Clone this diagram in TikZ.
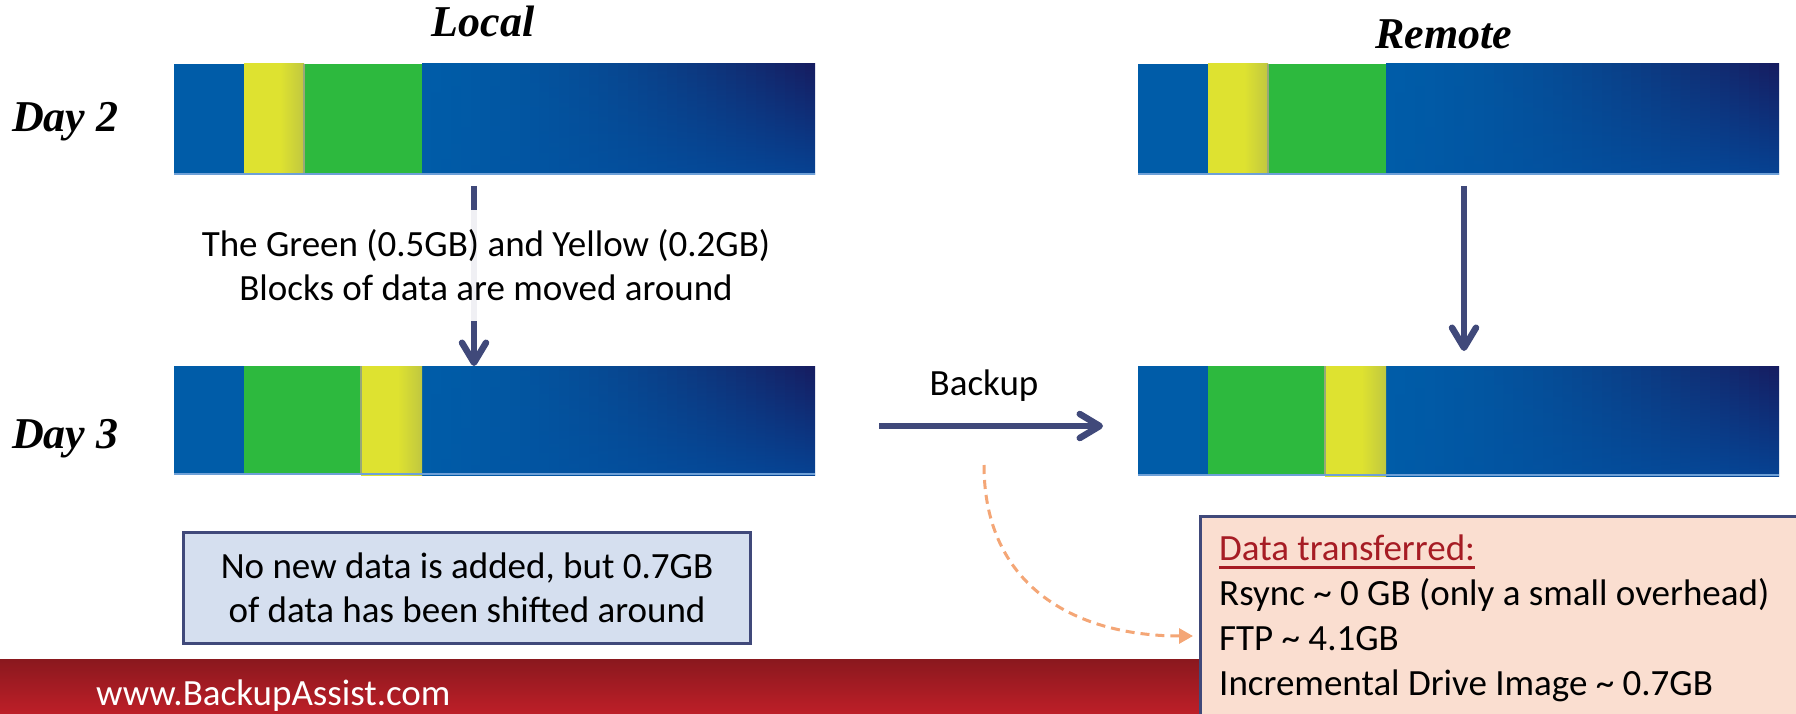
\documentclass[tikz,border=0pt]{standalone}
\usepackage{fontspec}
\setmainfont{Carlito}
\newfontfamily\titlefont{Liberation Serif}
\usetikzlibrary{arrows.meta}
\definecolor{navy}{RGB}{64,73,122}
\definecolor{barblue}{RGB}{0,92,168}
\definecolor{bardark}{RGB}{22,28,96}
\definecolor{botright}{RGB}{6,66,146}
\definecolor{ylw}{RGB}{222,226,48}
\definecolor{ylwdark}{RGB}{192,199,64}
\definecolor{grn}{RGB}{45,185,62}
\definecolor{boxblue}{RGB}{213,223,239}
\definecolor{peach}{RGB}{250,222,208}
\definecolor{dtred}{RGB}{166,28,36}
\definecolor{orng}{RGB}{244,166,118}
\definecolor{footdark}{RGB}{138,24,30}
\definecolor{footred}{RGB}{190,31,40}
\definecolor{baredge}{RGB}{110,160,215}
\definecolor{sepgray}{RGB}{150,168,120}
\pgfdeclarehorizontalshading{ylwshade}{100bp}{color(0bp)=(ylw); color(25bp)=(ylw); color(55bp)=(ylw); color(75bp)=(ylwdark); color(100bp)=(ylwdark)}
\newcommand\txtsize{\fontsize{37}{44}\selectfont}
\newcommand\ttlsize{\titlefont\bfseries\itshape\fontsize{44}{50}\selectfont}
% body of a disk bar in local coordinates, #1 = height
\newcommand\barbody[1]{%
  \fill[barblue] (0,0) rectangle (250,#1);
  \foreach \i in {0,...,39}{%
    \pgfmathsetmacro\xa{248+\i*9.825}%
    \pgfmathsetmacro\xb{min(\xa+10.6,641)}%
    \pgfmathsetmacro\pt{100*((\i+0.5)/40)^1.6}%
    \pgfmathsetmacro\pb{100*(\i+0.5)/40}%
    \colorlet{ctop}{bardark!\pt!barblue}%
    \colorlet{cbot}{botright!\pb!barblue}%
    \shade[top color=ctop, bottom color=cbot] (\xa,0) rectangle (\xb,#1);
  }%
}
\tikzset{
  ttl/.style={font=\ttlsize, inner sep=0pt},
  txt/.style={font=\txtsize, inner sep=0pt},
  navyarrow/.style={draw=navy, line width=6.5pt, -{Straight Barb[length=20pt, width=24pt, round]}},
  dasharrow/.style={draw=orng, line width=3pt, dash pattern=on 9pt off 6pt, -{Triangle[length=14pt, width=15pt]}, fill=none},
  sepline/.style={draw=sepgray, line width=1.5pt},
  edgeline/.style={draw=baredge, line width=2pt},
  bluebox/.style={draw=navy, line width=3pt, fill=boxblue, font=\txtsize, align=center, inner sep=0pt},
  peachbox/.style={draw=navy, line width=3pt, fill=peach, inner sep=0pt},
}
\begin{document}
\begin{tikzpicture}[x=1pt, y=-1pt]
\clip (0,0) rectangle (1796,714);
\fill[white] (0,0) rectangle (1796,714);

% ---- bars ----
% Local Day 2
\begin{scope}[shift={(174,64)}]
  \barbody{111}
  \shade[shading=ylwshade] (70,0) rectangle (130,111);
  \fill[grn] (130,0) rectangle (248,111);
  \draw[sepline] (130,0) -- (130,111);
  \draw[edgeline] (0,110) -- (641,110);
\end{scope}
% Local Day 3
\begin{scope}[shift={(174,366)}]
  \barbody{109}
  \fill[grn] (70,0) rectangle (187,109);
  \shade[shading=ylwshade] (187,0) rectangle (248,109);
  \draw[sepline] (187,0) -- (187,109);
  \draw[edgeline] (0,108) -- (641,108);
\end{scope}
% Remote Day 2
\begin{scope}[shift={(1138,64)}]
  \barbody{111}
  \shade[shading=ylwshade] (70,0) rectangle (130,111);
  \fill[grn] (130,0) rectangle (248,111);
  \draw[sepline] (130,0) -- (130,111);
  \draw[edgeline] (0,110) -- (641,110);
\end{scope}
% Remote Day 3
\begin{scope}[shift={(1138,366)}]
  \barbody{110}
  \fill[grn] (70,0) rectangle (187,110);
  \shade[shading=ylwshade] (187,0) rectangle (248,110);
  \draw[sepline] (187,0) -- (187,110);
  \draw[edgeline] (0,109) -- (641,109);
\end{scope}

% ---- titles ----
\node[ttl, anchor=base] (local) at (483,37) {Local};
\node[ttl, anchor=base] (remote) at (1444,49) {Remote};
\node[ttl, anchor=base west] (day2) at (12,132) {Day 2};
\node[ttl, anchor=base west] (day3) at (12,448) {Day 3};

% ---- arrows ----
\coordinate (la0) at (474,186);
\coordinate (la1) at (474,366);
\draw[navyarrow] (la0) -- (la1);
\node[txt, align=center, fill=white, fill opacity=0.92, text opacity=1, inner xsep=4pt, inner ysep=20pt] (moved) at (486,265.5)
  {The Green (0.5GB) and Yellow (0.2GB)\\Blocks of data are moved around};

\coordinate (ra0) at (1464,186);
\coordinate (ra1) at (1464,351);
\draw[navyarrow] (ra0) -- (ra1);

\coordinate (ba0) at (879,426);
\coordinate (ba1) at (1103,426);
\draw[navyarrow] (ba0) -- (ba1);
\node[txt, anchor=base] (backup) at (984,395) {Backup};

% ---- footer ----
\shade[top color=footdark, bottom color=footred] (0,659) rectangle (1796,714);
\node[txt, anchor=base west, text=white] (url) at (96,705) {www.BackupAssist.com};

% ---- note box ----
\node[bluebox, anchor=north west, minimum width=567pt, minimum height=111pt] (note) at (182,531)
  {No new data is added, but 0.7GB\\ of data has been shifted around};

% ---- data box ----
\node[peachbox, anchor=north west, minimum width=660pt, minimum height=260pt] (data) at (1199,515) {};
\node[txt, anchor=base west, text=dtred] (dt) at (1219,560) {Data transferred:};
\draw[dtred, line width=3pt] ([yshift=-7pt]dt.base west) -- ([yshift=-7pt]dt.base east);
\node[txt, anchor=base west] (rsync) at (1219,605) {Rsync \char"007E{} 0 GB (only a small overhead)};
\node[txt, anchor=base west] (ftp) at (1219,650) {FTP \char"007E{} 4.1GB};
\node[txt, anchor=base west] (img) at (1219,695) {Incremental Drive Image \char"007E{} 0.7GB};

% ---- dashed connector ----
\coordinate (da0) at (984,465);
\coordinate (da1) at (1193,636);
\draw[dasharrow] (da0) .. controls (984,590) and (1080,636) .. (da1);
\end{tikzpicture}
\end{document}
